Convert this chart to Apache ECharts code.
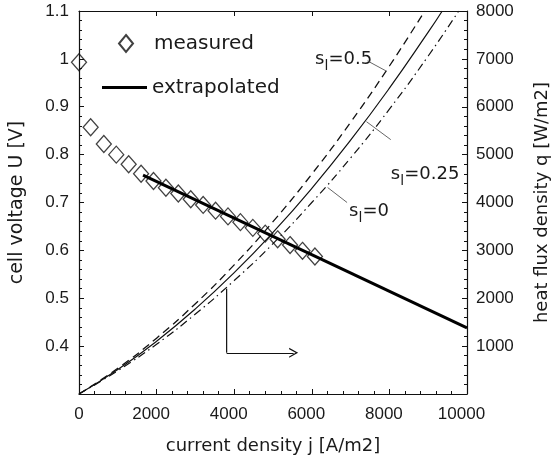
<!DOCTYPE html>
<html>
<head>
<meta charset="utf-8">
<script src="https://cdn.jsdelivr.net/npm/echarts@6/dist/echarts.min.js"></script>
<style>
html,body{margin:0;padding:0;background:#fff;}
#chart{width:559px;height:462px;}
</style>
</head>
<body>
<div id="chart"></div>
<script>
// ---- data ----
const xTicks = [0, 2000, 4000, 6000, 8000, 10000];
const jMeasured = [0, 300, 640, 960, 1280, 1600, 1920, 2240, 2560, 2880, 3200, 3520, 3840, 4160, 4480, 4800, 5120, 5440, 5760, 6080];
const uMeasured = [0.993, 0.857, 0.822, 0.800, 0.780, 0.760, 0.745, 0.731, 0.719, 0.707, 0.695, 0.683, 0.671, 0.659, 0.647, 0.635, 0.623, 0.611, 0.599, 0.587];
const jExtrap = [1650, 10000];
const uExtrap = [0.757, 0.438];
const jS05 = [0, 1000, 2000, 3000, 4000, 5000, 6000, 7000, 8000, 8911];
const qS05 = [0, 538, 1167, 1887, 2698, 3600, 4593, 5676, 6851, 8000];
const jS025 = [0, 1000, 2000, 3000, 4000, 5000, 6000, 7000, 8000, 9000, 9362];
const qS025 = [0, 510, 1103, 1778, 2535, 3375, 4296, 5301, 6388, 7557, 8000];
const jS0 = [0, 1000, 2000, 3000, 4000, 5000, 6000, 7000, 8000, 9000, 9787];
const qS0 = [0, 487, 1040, 1670, 2370, 3140, 4000, 4930, 5950, 7060, 8000];
// annotation anchors (data coordinates on the heat-flux axis)
const curveLabels = ['0.5', '0.25', '0'];
const labelJ = [6083, 8035, 6959];
const labelQ = [7000, 4583, 3813];
const leaderJ = [[7434, 7910], [7409, 8035], [6408, 6909]];
const leaderQ = [[6958, 6750], [5688, 5313], [4313, 4000]];
// arrow pointing to right axis (cell-voltage axis coordinates)
const arrowJ = [3805, 3805, 5532];
const arrowU = [0.520, 0.386, 0.386];

const FONT = '"Liberation Sans", Arial, Helvetica, sans-serif';
const WFONT = '"DejaVu Sans", Verdana, sans-serif';
const TXT = '#1a1a1a';
const zip = (a, b) => a.map((v, i) => [v, b[i]]);

const chart = echarts.init(document.getElementById('chart'), null, {renderer: 'canvas'});
const axisLine = {show: true, onZero: false, lineStyle: {color: '#111', width: 1.2}};
const option = {
  animation: false,
  backgroundColor: '#fff',
  textStyle: {fontFamily: FONT},
  grid: {left: 74, right: 86, top: 11, bottom: 68, containLabel: false},
  legend: [
    {data: ['measured'], left: 118, top: 33.5, padding: 0, itemWidth: 14, itemHeight: 17, orient: 'vertical',
     textStyle: {fontSize: 20, color: TXT, fontFamily: WFONT, padding: [0, 0, 0, 16]}, selectedMode: false},
    {data: [{name: 'extrapolated', icon: 'rect'}], left: 102, top: 77.5, padding: 0, itemWidth: 45, itemHeight: 3, orient: 'vertical',
     itemStyle: {color: '#000'},
     textStyle: {fontSize: 20, color: TXT, fontFamily: WFONT}, selectedMode: false}
  ],
  xAxis: [
    {type: 'value', position: 'bottom', min: 0, max: 10000, interval: 2000,
     name: 'current density j [A/m2]', nameLocation: 'middle', nameGap: 43,
     nameTextStyle: {fontSize: 18, color: TXT, fontFamily: WFONT},
     axisLine: axisLine,
     axisTick: {show: true, inside: true, length: 5, lineStyle: {color: '#111'}},
     minorTick: {show: true, splitNumber: 5, length: 3, lineStyle: {color: '#111'}},
     axisLabel: {fontSize: 17, color: TXT, margin: 12, fontFamily: FONT,
       formatter: v => (v === 0 ? '{z|0}' : '{n|' + v + '}'),
       rich: {z: {fontSize: 17, fontFamily: FONT, color: TXT},
              n: {fontSize: 17, fontFamily: FONT, color: TXT, padding: [0, 11, 0, 0]}}},
     splitLine: {show: false}},
    {type: 'value', position: 'top', min: 0, max: 10000, interval: 2000,
     axisLine: axisLine,
     axisTick: {show: true, inside: true, length: 5, lineStyle: {color: '#111'}},
     axisLabel: {show: false}, splitLine: {show: false}}
  ],
  yAxis: [
    {type: 'value', position: 'left', min: 0.3, max: 1.1, interval: 0.1,
     name: 'cell voltage U [V]', nameLocation: 'middle', nameGap: 52,
     nameTextStyle: {fontSize: 19, color: TXT, fontFamily: WFONT},
     axisLine: axisLine,
     axisTick: {show: true, inside: true, length: 5, lineStyle: {color: '#111'}},
     minorTick: {show: true, splitNumber: 5, length: 3, lineStyle: {color: '#111'}},
     axisLabel: {fontSize: 17, color: TXT, margin: 10, fontFamily: FONT,
       formatter: v => (Math.abs(v - 0.3) < 1e-6 ? '' : String(+v.toFixed(1)))},
     splitLine: {show: false}},
    {type: 'value', position: 'right', min: 0, max: 8000, interval: 1000,
     name: 'heat flux density q [W/m2]', nameLocation: 'middle', nameGap: 66,
     nameTextStyle: {fontSize: 18, color: TXT, fontFamily: WFONT},
     axisLine: axisLine,
     axisTick: {show: true, inside: true, length: 5, lineStyle: {color: '#111'}},
     minorTick: {show: true, splitNumber: 5, length: 3, lineStyle: {color: '#111'}},
     axisLabel: {fontSize: 17, color: TXT, margin: 9, fontFamily: FONT,
       formatter: v => (v === 0 ? '' : String(v))},
     splitLine: {show: false}}
  ],
  series: [
    {name: 'measured', type: 'scatter', xAxisIndex: 0, yAxisIndex: 0,
     data: zip(jMeasured, uMeasured), symbol: 'diamond', symbolSize: [15, 17],
     itemStyle: {color: 'rgba(255,255,255,0)', borderColor: '#111', borderWidth: 1.3}, z: 3},
    {name: 'extrapolated', type: 'line', xAxisIndex: 0, yAxisIndex: 0,
     data: zip(jExtrap, uExtrap), symbol: 'none', lineStyle: {color: '#000', width: 3}, itemStyle: {color: '#000'}, z: 4},
    {name: 's=0.5', type: 'line', xAxisIndex: 0, yAxisIndex: 1, smooth: true,
     data: zip(jS05, qS05), symbol: 'none', lineStyle: {color: '#111', width: 1.3, type: [8, 5]}},
    {name: 's=0.25', type: 'line', xAxisIndex: 0, yAxisIndex: 1, smooth: true,
     data: zip(jS025, qS025), symbol: 'none', lineStyle: {color: '#111', width: 1.2}},
    {name: 's=0', type: 'line', xAxisIndex: 0, yAxisIndex: 1, smooth: true,
     data: zip(jS0, qS0), symbol: 'none', lineStyle: {color: '#111', width: 1.2, type: [8, 4, 1.5, 4]}},
    ...leaderJ.map((lj, k) => ({
      name: 'leader' + k, type: 'line', xAxisIndex: 0, yAxisIndex: 1,
      data: zip(lj, leaderQ[k]), symbol: 'none', lineStyle: {color: '#555', width: 0.9}, silent: true
    })),
    {name: 'arrow', type: 'line', xAxisIndex: 0, yAxisIndex: 0,
     data: zip(arrowJ.slice(0, 2), arrowU.slice(0, 2)), symbol: 'none',
     lineStyle: {color: '#111', width: 1.2}, silent: true,
     markLine: {silent: true, symbol: ['none', 'path://M0,10 L5,0 L10,10 L8.6,10 L5,2.8 L1.4,10 Z'], symbolSize: [10, 9],
       lineStyle: {color: '#111', width: 1.2, type: 'solid'}, label: {show: false},
       data: [[{coord: [arrowJ[1], arrowU[1]]}, {coord: [arrowJ[2], arrowU[2]]}]]}}
  ]
};
chart.setOption(option);

// curve labels s_l = ..., placed at data coordinates
const graphics = [];
curveLabels.forEach((lab, k) => {
  const p = chart.convertToPixel({xAxisIndex: 0, yAxisIndex: 1}, [labelJ[k], labelQ[k]]);
  const st = (t, size) => ({text: t, font: size + 'px ' + WFONT, fill: TXT, align: 'left', verticalAlign: 'middle', textAlign: 'left', textVerticalAlign: 'middle'});
  graphics.push({type: 'text', x: p[0], y: p[1], silent: true, style: st('s', 18)});
  graphics.push({type: 'text', x: p[0] + 9.5, y: p[1] + 7, silent: true, style: st('l', 14)});
  graphics.push({type: 'text', x: p[0] + 13.5, y: p[1], silent: true, style: st('=' + lab, 18)});
});
chart.setOption({graphic: graphics});
</script>
</body>
</html>
